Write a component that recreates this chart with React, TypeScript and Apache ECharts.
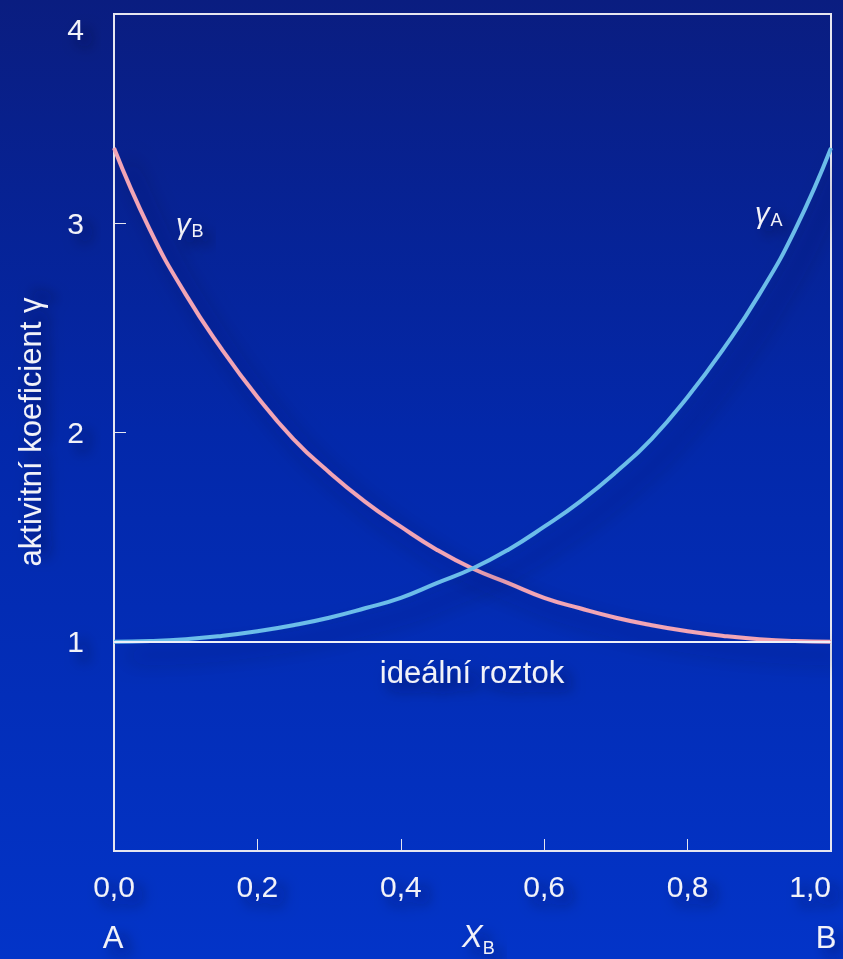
import React, { useEffect, useRef } from "react";
import * as echarts from "echarts";

const xB = [0, 0.05, 0.1, 0.15, 0.2, 0.25, 0.3, 0.35, 0.4, 0.45, 0.5, 0.55, 0.6, 0.65, 0.7, 0.75, 0.8, 0.85, 0.9, 0.95, 1.0];
const gammaA = [1.0, 1.003, 1.012, 1.028, 1.05, 1.079, 1.115, 1.16, 1.21, 1.28, 1.35, 1.44, 1.55, 1.67, 1.81, 1.97, 2.17, 2.4, 2.66, 2.97, 3.36];
const gammaB = [3.36, 2.97, 2.66, 2.4, 2.17, 1.97, 1.81, 1.67, 1.55, 1.44, 1.35, 1.28, 1.21, 1.16, 1.115, 1.079, 1.05, 1.028, 1.012, 1.003, 1.0];
const idealValue = 1;
const yTicks = [1, 2, 3, 4];

const FONT = "'Liberation Sans', Arial, Helvetica, sans-serif";
const WHITE = "#f2f2f8";
const SH = { textShadowColor: "rgba(0,0,40,0.55)", textShadowBlur: 14, textShadowOffsetX: 8, textShadowOffsetY: 8 };

export default function App() {
  const ref = useRef<HTMLDivElement>(null);
  useEffect(() => {
    document.body.style.margin = "0";
    const chart = echarts.init(ref.current!, null, { renderer: "svg" });
    const lineShadow = { shadowColor: "rgba(0,0,50,0.6)", shadowBlur: 22, shadowOffsetX: 14, shadowOffsetY: 14 };
    chart.setOption({
      animation: false,
      backgroundColor: "transparent",
      grid: {
        left: 114, right: 12, top: 14, bottom: 108, show: true,
        borderColor: "#e6e6f0", borderWidth: 2, backgroundColor: "transparent",
        outerBoundsMode: "none", containLabel: false,
      },
      xAxis: {
        type: "value", min: 0, max: 1, interval: 0.2,
        axisLine: { show: true, lineStyle: { color: "#e6e6f0", width: 2 } },
        axisTick: { show: true, inside: true, length: 12, lineStyle: { color: "#e6e6f0", width: 1 } },
        splitLine: { show: false },
        axisLabel: {
          margin: 20, color: WHITE, fontSize: 30, fontFamily: FONT, ...SH, alignMaxLabel: "right",
          formatter: (v: number) => v.toFixed(1).replace(".", ","),
        },
      },
      yAxis: {
        type: "value", min: 0, max: 4, interval: 1,
        axisLine: { show: true, lineStyle: { color: "#e6e6f0", width: 2 } },
        axisTick: { show: true, inside: true, length: 12, lineStyle: { color: "#e6e6f0", width: 1 } },
        splitLine: { show: false },
        axisLabel: {
          margin: 30, color: WHITE, fontSize: 30, fontFamily: FONT, ...SH, verticalAlignMaxLabel: "top",
          formatter: (v: number) => (yTicks.includes(v) ? String(v) : ""),
        },
      },
      series: [
        {
          type: "line", smooth: true, showSymbol: false, z: 3,
          data: xB.map((x, i) => [x, gammaB[i]]),
          lineStyle: { color: "#f2a5b5", width: 4, ...lineShadow },
          markLine: {
            silent: true, symbol: "none",
            lineStyle: { color: "#eef0f8", width: 2, type: "solid" },
            label: { show: false },
            data: [{ yAxis: idealValue }],
          },
        },
        {
          type: "line", smooth: true, showSymbol: false, z: 4,
          data: xB.map((x, i) => [x, gammaA[i]]),
          lineStyle: { color: "#6cbde9", width: 4, ...lineShadow },
        },
      ],
      graphic: [
        {
          type: "text", x: 30, y: 432, rotation: Math.PI / 2,
          style: { text: "aktivitní koeficient γ", fill: WHITE, font: `31px ${FONT}`, align: "center", verticalAlign: "middle", ...SH },
        },
        {
          type: "text", x: 472, y: 672,
          style: { text: "ideální roztok", fill: WHITE, font: `31px ${FONT}`, align: "center", verticalAlign: "middle", ...SH },
        },
        {
          type: "text", x: 113, y: 937,
          style: { text: "A", fill: WHITE, font: `31px ${FONT}`, align: "center", verticalAlign: "middle", ...SH },
        },
        {
          type: "text", x: 826, y: 937,
          style: { text: "B", fill: WHITE, font: `31px ${FONT}`, align: "center", verticalAlign: "middle", ...SH },
        },
        {
          type: "text", x: 462, y: 936,
          style: {
            text: "{x|X}{s|B}", align: "left", verticalAlign: "middle", ...SH,
            rich: {
              x: { fill: WHITE, font: `italic 31px ${FONT}` },
              s: { fill: WHITE, font: `18px ${FONT}`, padding: [24, 0, 0, 0] },
            },
          },
        },
        {
          type: "text", x: 176, y: 224,
          style: {
            text: "{g|γ}{s|B}", align: "left", verticalAlign: "middle", ...SH,
            rich: {
              g: { fill: WHITE, font: `italic 29px ${FONT}` },
              s: { fill: WHITE, font: `18px ${FONT}`, padding: [14, 0, 0, 1] },
            },
          },
        },
        {
          type: "text", x: 755, y: 213,
          style: {
            text: "{g|γ}{s|A}", align: "left", verticalAlign: "middle", ...SH,
            rich: {
              g: { fill: WHITE, font: `italic 29px ${FONT}` },
              s: { fill: WHITE, font: `18px ${FONT}`, padding: [14, 0, 0, 1] },
            },
          },
        },
      ],
    });
    return () => chart.dispose();
  }, []);
  return (
    <div
      ref={ref}
      style={{
        width: 843, height: 959, position: "absolute", left: 0, top: 0,
        background: "linear-gradient(to bottom, #0a1d80 0%, #0328aa 45%, #0334c8 100%)",
      }}
    />
  );
}
